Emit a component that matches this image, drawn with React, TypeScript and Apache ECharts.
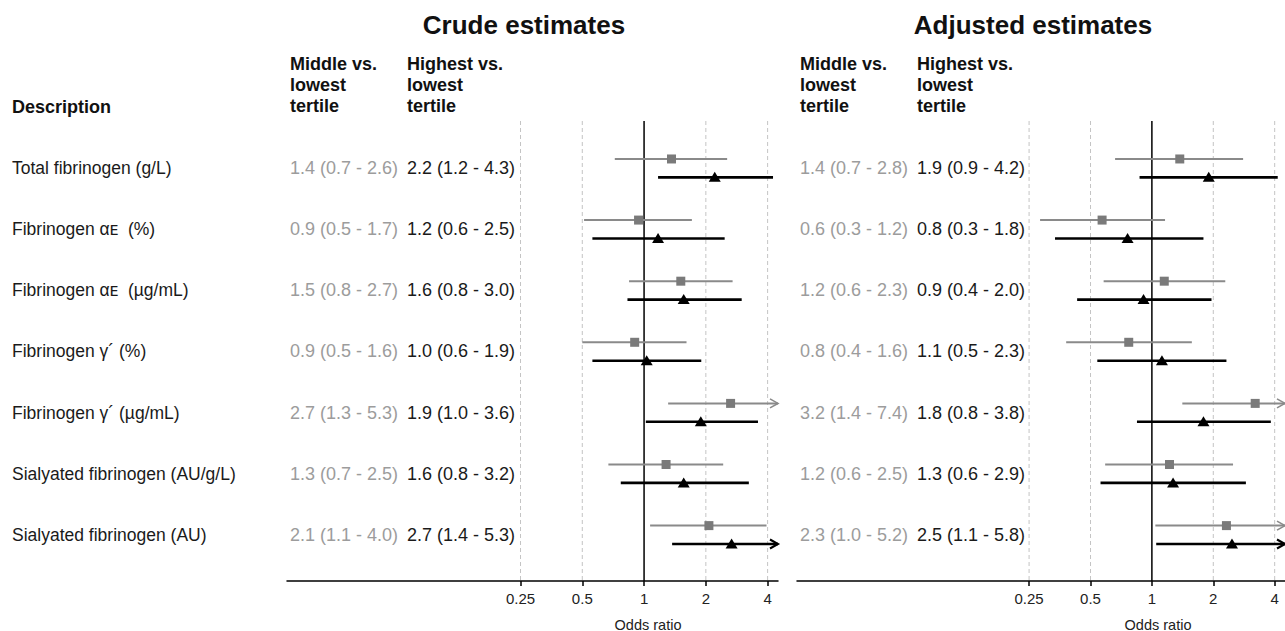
import React, { useEffect, useRef } from "react";
import * as echarts from "echarts";

// ---------- data ----------
const descriptions = [
  "Total fibrinogen (g/L)",
  "Fibrinogen αᴇ  (%)",
  "Fibrinogen αᴇ  (µg/mL)",
  "Fibrinogen γ´ (%)",
  "Fibrinogen γ´ (µg/mL)",
  "Sialyated fibrinogen (AU/g/L)",
  "Sialyated fibrinogen (AU)",
];

const panelTitles = ["Crude estimates", "Adjusted estimates"];
const columnHeaders = ["Middle vs.\nlowest\ntertile", "Highest vs.\nlowest\ntertile"];
const descriptionHeader = "Description";
const xAxisTitle = "Odds ratio";
const tickValues = [0.25, 0.5, 1, 2, 4];
const tickLabels = ["0.25", "0.5", "1", "2", "4"];
const referenceValue = 1;

const crudeMiddleText = ["1.4 (0.7 - 2.6)", "0.9 (0.5 - 1.7)", "1.5 (0.8 - 2.7)", "0.9 (0.5 - 1.6)", "2.7 (1.3 - 5.3)", "1.3 (0.7 - 2.5)", "2.1 (1.1 - 4.0)"];
const crudeHighestText = ["2.2 (1.2 - 4.3)", "1.2 (0.6 - 2.5)", "1.6 (0.8 - 3.0)", "1.0 (0.6 - 1.9)", "1.9 (1.0 - 3.6)", "1.6 (0.8 - 3.2)", "2.7 (1.4 - 5.3)"];
const adjMiddleText = ["1.4 (0.7 - 2.8)", "0.6 (0.3 - 1.2)", "1.2 (0.6 - 2.3)", "0.8 (0.4 - 1.6)", "3.2 (1.4 - 7.4)", "1.2 (0.6 - 2.5)", "2.3 (1.0 - 5.2)"];
const adjHighestText = ["1.9 (0.9 - 4.2)", "0.8 (0.3 - 1.8)", "0.9 (0.4 - 2.0)", "1.1 (0.5 - 2.3)", "1.8 (0.8 - 3.8)", "1.3 (0.6 - 2.9)", "2.5 (1.1 - 5.8)"];

const crudeMiddleEst = [1.36, 0.94, 1.51, 0.9, 2.64, 1.28, 2.07];
const crudeMiddleLo = [0.72, 0.51, 0.845, 0.5, 1.31, 0.67, 1.07];
const crudeMiddleHi = [2.54, 1.71, 2.7, 1.61, 5.3, 2.43, 3.95];
const crudeHighEst = [2.21, 1.17, 1.56, 1.03, 1.89, 1.56, 2.67];
const crudeHighLo = [1.17, 0.56, 0.83, 0.56, 1.02, 0.77, 1.37];
const crudeHighHi = [4.25, 2.47, 2.99, 1.9, 3.59, 3.24, 5.3];

const adjMiddleEst = [1.37, 0.57, 1.15, 0.77, 3.21, 1.22, 2.32];
const adjMiddleLo = [0.66, 0.283, 0.58, 0.38, 1.41, 0.59, 1.04];
const adjMiddleHi = [2.8, 1.16, 2.29, 1.57, 7.4, 2.5, 5.2];
const adjHighEst = [1.9, 0.76, 0.91, 1.12, 1.79, 1.27, 2.47];
const adjHighLo = [0.87, 0.335, 0.43, 0.54, 0.845, 0.56, 1.05];
const adjHighHi = [4.14, 1.79, 1.96, 2.32, 3.83, 2.89, 5.8];

// ---------- layout / style ----------
const FONT = '"Liberation Sans", Arial, Helvetica, sans-serif';
const X_MIN = -5.78; // log2 scale extent of each panel's axis
const X_MAX = 2.168;
const Y_MIN = -0.772;
const Y_MAX = 6.756;
const GRID_TOP = 121;
const GRID_HEIGHT = 460;
const GRID_WIDTH = 491;
const PANEL_LEFT = [287, 797];
const GRAY_LINE = "#8a8a8a";
const GRAY_MARK = "#7a7a7a";
const GRAY_TEXT = "#9c9c9c";
const BLACK = "#000000";
const TEXT_DARK = "#1a1a1a";

const log2 = (v: number) => Math.log(v) / Math.LN2;
const tickLog = tickValues.map(log2);
const rowIdx = descriptions.map((_, i) => i);

function buildData(est: number[], lo: number[], hi: number[]) {
  return est.map((e, i) => [log2(e), log2(lo[i]), log2(hi[i]), i]);
}

function makeRender(kind: "square" | "triangle", lineColor: string, markColor: string, lw: number, dy: number) {
  return (params: any, api: any) => {
    const cs = params.coordSys;
    const pE = api.coord([api.value(0), api.value(3)]);
    const pLo = api.coord([api.value(1), api.value(3)]);
    const pHi = api.coord([api.value(2), api.value(3)]);
    const y = pE[1] + dy;
    const xMax = cs.x + cs.width;
    const xEnd = Math.min(pHi[0], xMax);
    const children: any[] = [
      { type: "line", shape: { x1: pLo[0], y1: y, x2: xEnd, y2: y }, style: { stroke: lineColor, lineWidth: lw } },
    ];
    if (pHi[0] > xMax) {
      children.push({
        type: "polyline",
        shape: { points: [[xEnd - 8, y - 4.5], [xEnd, y], [xEnd - 8, y + 4.5]] },
        style: { stroke: lineColor, lineWidth: lw * 0.8, fill: "none" },
      });
    }
    if (kind === "square") {
      children.push({ type: "rect", shape: { x: pE[0] - 4.5, y: y - 4.5, width: 9, height: 9 }, style: { fill: markColor } });
    } else {
      children.push({
        type: "polygon",
        shape: { points: [[pE[0], y - 5.5], [pE[0] - 6, y + 4.5], [pE[0] + 6, y + 4.5]] },
        style: { fill: markColor },
      });
    }
    return { type: "group", children };
  };
}

function gridLineRender(params: any, api: any) {
  const cs = params.coordSys;
  const x = api.coord([api.value(0), 0])[0];
  const isRef = Math.abs(api.value(0) - log2(referenceValue)) < 1e-9;
  return {
    type: "line",
    shape: { x1: x, y1: cs.y, x2: x, y2: cs.y + cs.height },
    style: isRef
      ? { stroke: "#000", lineWidth: 1.5 }
      : { stroke: "#c4c4c4", lineWidth: 1, lineDash: [4, 3] },
  };
}

export default function App() {
  const ref = useRef<HTMLDivElement>(null);
  useEffect(() => {
    if (!ref.current) return;
    const chart = echarts.init(ref.current, undefined, { renderer: "svg" });

    const grids = PANEL_LEFT.map((left) => ({ left, top: GRID_TOP, width: GRID_WIDTH, height: GRID_HEIGHT }));

    const xAxes = PANEL_LEFT.map((_, g) => ({
      type: "value",
      gridIndex: g,
      min: X_MIN,
      max: X_MAX,
      axisLine: { onZero: false, lineStyle: { color: "#000", width: 1.5 } },
      axisTick: { customValues: tickLog, length: 5, lineStyle: { color: "#000", width: 1.5 } },
      axisLabel: {
        customValues: tickLog,
        margin: 10,
        fontSize: 15,
        fontFamily: FONT,
        color: "#222",
        formatter: (v: number) => {
          const k = tickLog.findIndex((t) => Math.abs(t - v) < 1e-6);
          return k >= 0 ? tickLabels[k] : "";
        },
      },
      splitLine: { show: false },
    }));

    const yBase = {
      type: "value",
      min: Y_MIN,
      max: Y_MAX,
      inverse: true,
      position: "left",
      splitLine: { show: false },
      axisLine: { show: false, onZero: false },
      axisTick: { show: false },
    };
    const textAxis = (gridIndex: number, texts: string[], color: string, inside: boolean, margin: number, fontSize: number) => ({
      ...yBase,
      gridIndex,
      axisLabel: {
        customValues: rowIdx,
        inside,
        margin,
        align: "left",
        fontSize,
        fontFamily: FONT,
        color,
        formatter: (v: number) => texts[Math.round(v)] ?? "",
      },
    });

    const yAxes = [
      { ...yBase, gridIndex: 0, axisLabel: { show: false } }, // 0 main crude
      textAxis(0, descriptions, TEXT_DARK, false, PANEL_LEFT[0] - 12, 17.5), // 1
      textAxis(0, crudeMiddleText, GRAY_TEXT, true, 3, 18), // 2
      textAxis(0, crudeHighestText, TEXT_DARK, true, 120, 18), // 3
      { ...yBase, gridIndex: 1, axisLabel: { show: false } }, // 4 main adjusted
      textAxis(1, adjMiddleText, GRAY_TEXT, true, 3, 18), // 5
      textAxis(1, adjHighestText, TEXT_DARK, true, 120, 18), // 6
    ];

    const panels = [
      { x: 0, y: 0, mid: [crudeMiddleEst, crudeMiddleLo, crudeMiddleHi], high: [crudeHighEst, crudeHighLo, crudeHighHi] },
      { x: 1, y: 4, mid: [adjMiddleEst, adjMiddleLo, adjMiddleHi], high: [adjHighEst, adjHighLo, adjHighHi] },
    ];

    const series: any[] = [];
    panels.forEach((p) => {
      series.push({
        type: "custom",
        xAxisIndex: p.x,
        yAxisIndex: p.y,
        z: 1,
        silent: true,
        clip: false,
        encode: { x: 0, y: 1 },
        data: tickLog.map((t) => [t, 0]),
        renderItem: gridLineRender,
      });
      series.push({
        type: "custom",
        xAxisIndex: p.x,
        yAxisIndex: p.y,
        z: 3,
        silent: true,
        clip: false,
        encode: { x: [0, 1, 2], y: 3 },
        data: buildData(p.mid[0], p.mid[1], p.mid[2]),
        renderItem: makeRender("square", GRAY_LINE, GRAY_MARK, 2, -9.2),
      });
      series.push({
        type: "custom",
        xAxisIndex: p.x,
        yAxisIndex: p.y,
        z: 4,
        silent: true,
        clip: false,
        encode: { x: [0, 1, 2], y: 3 },
        data: buildData(p.high[0], p.high[1], p.high[2]),
        renderItem: makeRender("triangle", BLACK, BLACK, 2.6, 9.2),
      });
    });

    const txt = (x: number, y: number, text: string, o: any) => ({
      type: "text",
      x,
      y,
      silent: true,
      style: { text, fontFamily: FONT, fill: "#111", ...o },
    });

    const graphic = [
      txt(524, 25, panelTitles[0], { fontSize: 26, fontWeight: "bold", align: "center", verticalAlign: "middle" }),
      txt(1033, 25, panelTitles[1], { fontSize: 26, fontWeight: "bold", align: "center", verticalAlign: "middle" }),
      txt(12, 106.5, descriptionHeader, { fontSize: 18, fontWeight: "bold", align: "left", verticalAlign: "middle" }),
      txt(290, 53.5, columnHeaders[0], { fontSize: 18, fontWeight: "bold", lineHeight: 21, align: "left", verticalAlign: "top" }),
      txt(407, 53.5, columnHeaders[1], { fontSize: 18, fontWeight: "bold", lineHeight: 21, align: "left", verticalAlign: "top" }),
      txt(800, 53.5, columnHeaders[0], { fontSize: 18, fontWeight: "bold", lineHeight: 21, align: "left", verticalAlign: "top" }),
      txt(917, 53.5, columnHeaders[1], { fontSize: 18, fontWeight: "bold", lineHeight: 21, align: "left", verticalAlign: "top" }),
      txt(648, 624.5, xAxisTitle, { fontSize: 14.5, fill: "#222", align: "center", verticalAlign: "middle" }),
      txt(1158, 624.5, xAxisTitle, { fontSize: 14.5, fill: "#222", align: "center", verticalAlign: "middle" }),
    ];

    chart.setOption({
      animation: false,
      backgroundColor: "#ffffff",
      grid: grids,
      xAxis: xAxes,
      yAxis: yAxes,
      series,
      graphic,
    });
    return () => chart.dispose();
  }, []);

  return (
    <div
      ref={ref}
      style={{ position: "fixed", left: 0, top: 0, width: 1285, height: 631, background: "#fff" }}
    />
  );
}
